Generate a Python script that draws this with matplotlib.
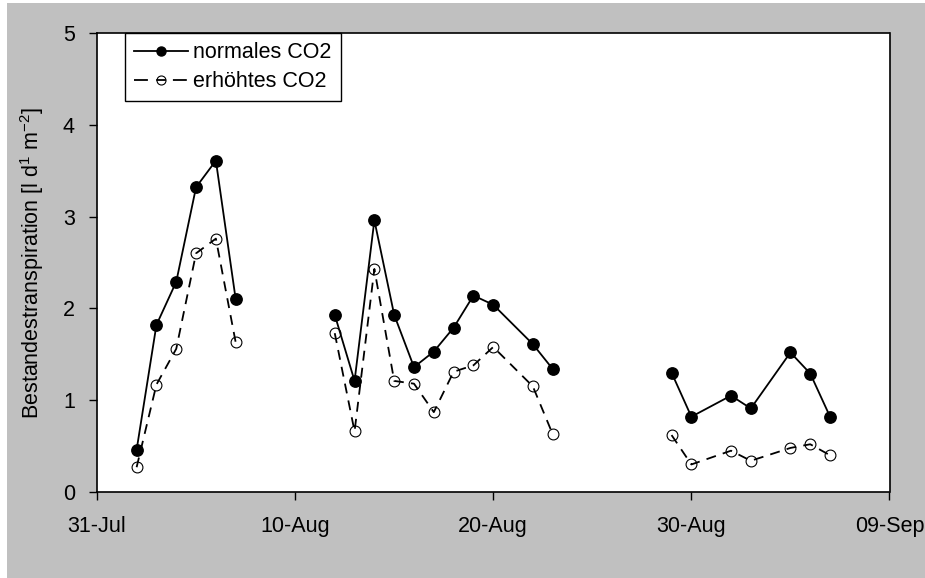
import numpy as np
import pandas as pd
import matplotlib
matplotlib.use("Agg")
import matplotlib.pyplot as plt
import matplotlib.dates as mdates
from matplotlib.patches import Rectangle
from matplotlib.lines import Line2D

plt.rcParams['font.family'] = ['Liberation Sans', 'DejaVu Sans']
plt.rcParams['mathtext.default'] = 'regular'

# ---- data (NaN marks breaks in the measurement series) ----
dates = ["2003-08-02", "2003-08-03", "2003-08-04", "2003-08-05", "2003-08-06", "2003-08-07",
         "2003-08-10",
         "2003-08-12", "2003-08-13", "2003-08-14", "2003-08-15", "2003-08-16", "2003-08-17",
         "2003-08-18", "2003-08-19", "2003-08-20", "2003-08-22", "2003-08-23",
         "2003-08-26",
         "2003-08-29", "2003-08-30", "2003-09-01", "2003-09-02", "2003-09-04", "2003-09-05",
         "2003-09-06"]
normal_co2 = [0.46, 1.82, 2.29, 3.32, 3.61, 2.10,
              np.nan,
              1.93, 1.21, 2.96, 1.93, 1.36, 1.53, 1.79, 2.14, 2.04, 1.61, 1.34,
              np.nan,
              1.30, 0.82, 1.05, 0.91, 1.52, 1.29, 0.82]
elevated_co2 = [0.27, 1.17, 1.56, 2.60, 2.76, 1.63,
                np.nan,
                1.73, 0.66, 2.43, 1.21, 1.18, 0.87, 1.31, 1.38, 1.58, 1.15, 0.63,
                np.nan,
                0.62, 0.30, 0.45, 0.34, 0.48, 0.52, 0.40]
series_labels = ["normales CO2", "erhöhtes CO2"]
x_start, x_end = "2003-07-31", "2003-09-09"
y_label = "Bestandestranspiration [l d$^{1}$ m$^{-2}$]"

x = pd.to_datetime(dates)

W, H = 925, 578
fig = plt.figure(figsize=(W / 100, H / 100), dpi=100, facecolor='white')
fig.patches.append(Rectangle((7 / W, 0), 1 - 7 / W, (H - 3) / H, transform=fig.transFigure,
                             facecolor='#c0c0c0', edgecolor='none', zorder=-10))

L, R, T, B = 97, 889.5, 33, 492
ax = fig.add_axes([L / W, 1 - B / H, (R - L) / W, (B - T) / H])
ax.set_facecolor('white')

ax.plot(x, elevated_co2, color='black', lw=1.3, dashes=(5.5, 4), marker='o', ms=7.8,
        mfc='none', mec='black', mew=0.8, zorder=3)
ax.plot(x, normal_co2, color='black', lw=1.3, marker='o', ms=8.2, mfc='black', mec='black',
        zorder=4)

ax.set_xlim(pd.Timestamp(x_start), pd.Timestamp(x_end))
ax.set_ylim(0, 5)
ticks = pd.date_range(x_start, x_end, freq='10D')
ax.set_xticks(ticks)
ax.xaxis.set_major_formatter(mdates.DateFormatter('%d-%b'))
ax.set_yticks([0, 1, 2, 3, 4, 5])

for s in ax.spines.values():
    s.set_linewidth(1.2)
    s.set_color('black')
ax.tick_params(axis='both', direction='out', length=6, width=1, labelsize=15.5, colors='black')
ax.tick_params(axis='x', pad=11)
ax.tick_params(axis='y', pad=10)

ax.set_ylabel(y_label, fontsize=15.5, labelpad=12)

# legend proxies (legend shows one long dash each side and a short one through the marker)
h_normal = Line2D([], [], color='black', lw=1.3, marker='o', ms=6.5, mfc='black', mec='black')
h_elev = Line2D([], [], color='black', lw=1.3, dashes=(7.7, 4.6, 5.4, 3.85), marker='o', ms=6.5,
                mfc='none', mec='black', mew=0.8)
leg = ax.legend([h_normal, h_elev], series_labels, loc='upper left',
                bbox_to_anchor=((125 - L) / (R - L), 1.0), borderaxespad=0,
                fontsize=15.5, frameon=True, fancybox=False, framealpha=1,
                edgecolor='black', handlelength=2.5, handletextpad=0.25,
                borderpad=0.42, labelspacing=0.38)
leg.get_frame().set_linewidth(1.0)

fig.savefig("out.png", dpi=100, facecolor=fig.get_facecolor())
